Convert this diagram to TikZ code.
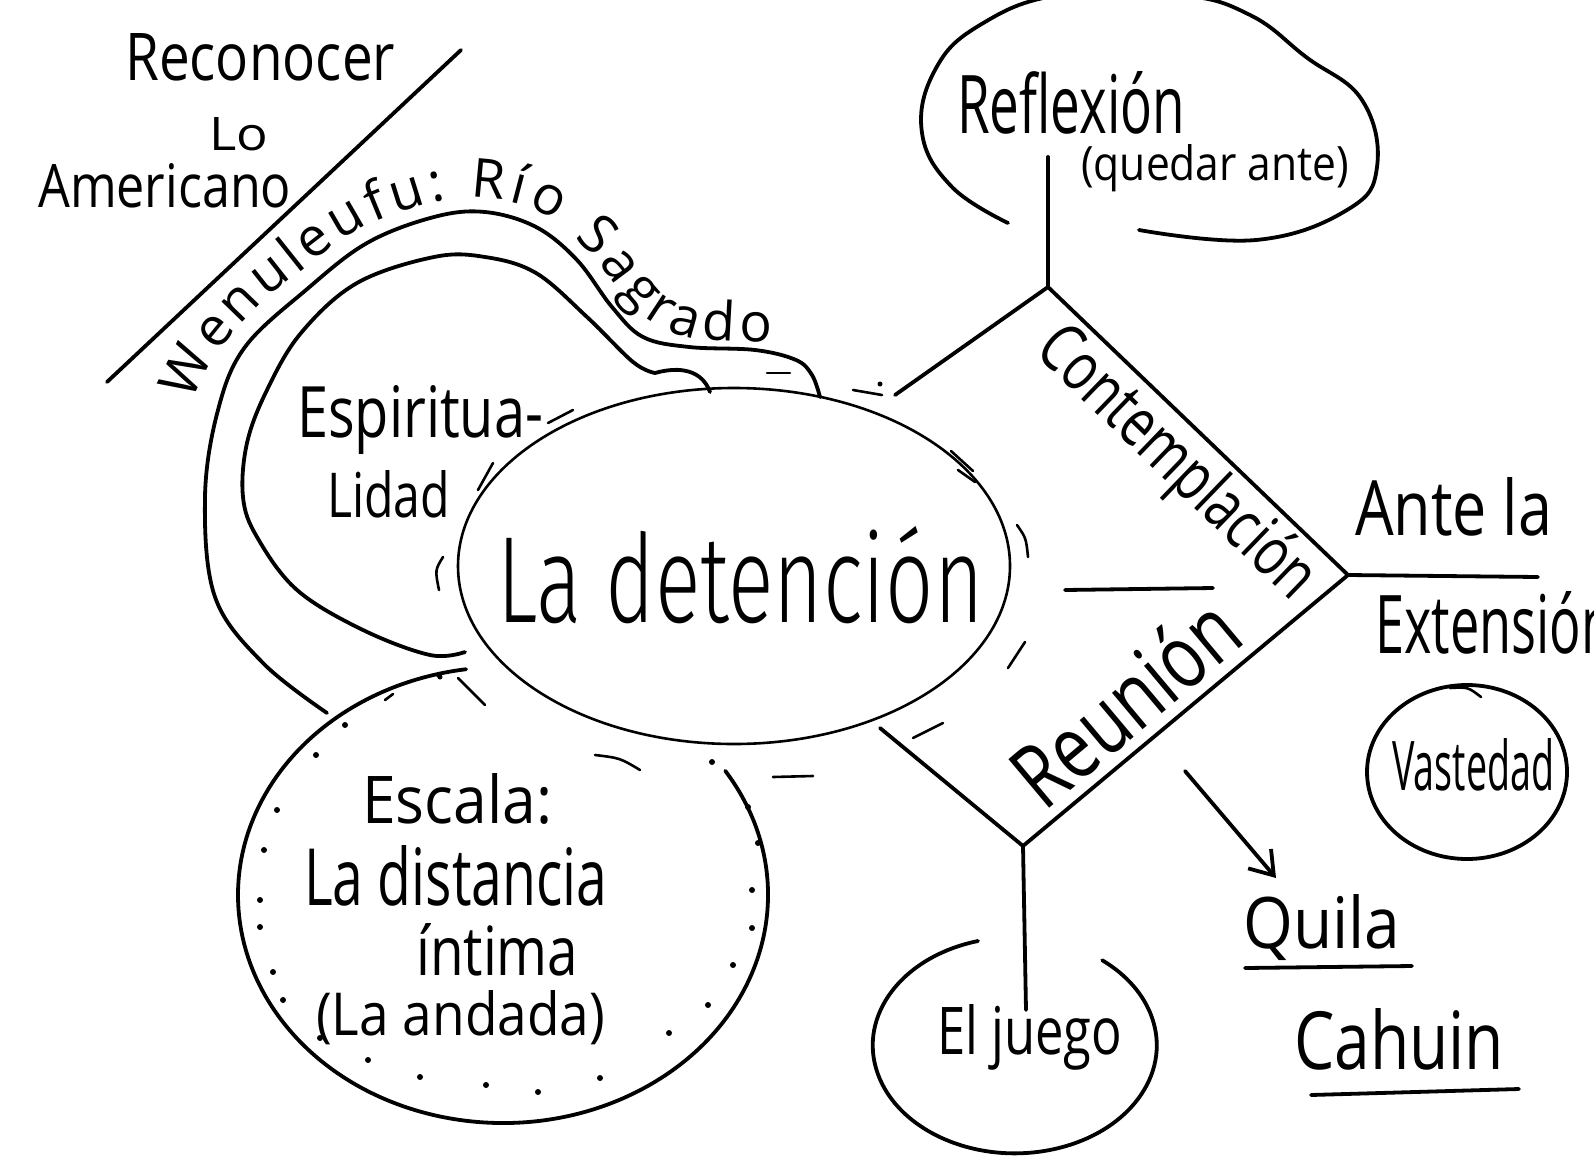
\documentclass[tikz,border=0pt]{standalone}
\usepackage{fontspec}
\setmainfont{Open Sans}
\newfontfamily\lightf{Fira Sans Light}
\usetikzlibrary{decorations.text,arrows.meta}
\newcommand\fitbox[3]{\resizebox{#1pt}{#2pt}{#3}}
\begin{document}
\begin{tikzpicture}[x=1pt,y=-1pt,line cap=round,line join=round,
  ink/.style={line width=3.8pt},
  fine/.style={line width=2.6pt},
  lbl/.style={inner sep=0pt,anchor=base west}]
\useasboundingbox (0,0) rectangle (1594,1156);
\fill[white] (0,0) rectangle (1594,1156);

% ---- top-left: Reconocer Lo Americano
\node[lbl] (trec) at (125,80) {\fitbox{270}{47}{Reconocer}};
\node[lbl] (tlo) at (209,150) {\fitbox{59}{33}{Lo}};
\node[lbl] (tam) at (38,207) {\fitbox{253}{44}{Americano}};
\coordinate (dg1) at (461,50);
\coordinate (dg2) at (107,382);
\draw[ink] (dg1) -- (dg2);

% ---- river (Wenuleufu)
\draw[ink] plot[smooth,tension=0.6] coordinates {(327,713) (263,663) (215,597) (205,497) (218,410) (245,347) (306,290) (367,243) (434,217) (485,212) (536,227) (577,260) (612,307) (643,337) (689,347) (755,350) (796,360) (812,375) (820,397)};
\draw[ink] plot[smooth,tension=0.6] coordinates {(465,652) (430,655) (363,630) (297,590) (257,537) (243,497) (247,443) (267,390) (301,333) (357,283) (434,257) (485,257) (536,273) (587,317) (633,362) (655,373)};
\draw[ink] (655,373) .. controls (680,366) and (702,370) .. (710,392);
\path[decorate,decoration={text along path,text align=fit to path,
  text={|\fontsize{54}{54}\selectfont|Wenuleufu: Río Sagrado}}]
  plot[smooth,tension=0.6] coordinates {(192,402) (210,365) (232,335) (262,303) (295,276) (358,230) (430,203) (485,198) (540,212) (585,247) (620,290) (650,320) (692,338) (772,342)};

% ---- Espiritualidad
\node[lbl] (tesp) at (297,437) {\fitbox{246}{52}{Espiritua-}};
\node[lbl] (tlid) at (327,517) {\fitbox{123}{47}{Lidad}};
\draw[fine] (548,423) -- (573,410);

% ---- La detencion
\coordinate (det) at (734,566);
\draw[fine] (det) ellipse [x radius=276, y radius=178];
\node[lbl] (tdet) at (497,622) {\fitbox{486}{96}{\lightf La detención}};
% marks around it
\draw[fine] (478,490) -- (493,463);
\draw[fine] (443,557) .. controls (435,570) .. (439,590);
\draw[fine] (458,678) -- (485,705);
\fill (440,677) circle (2.5);
\draw[fine] (767,373) -- (790,373);
\draw[fine] (853,390) -- (882,395);
\fill (880,384) circle (2.5);
\draw[fine] (951,451) -- (973,471);
\draw[fine] (958,470) -- (975,482);
\draw[fine] (1017,525) .. controls (1026,538) .. (1028,557);
\draw[fine] (1008,668) -- (1025,642);
\draw[fine] (913,738) -- (943,723);
\draw[fine] (595,755) .. controls (620,758) .. (640,770);
\draw[fine] (773,777) -- (813,776);

% ---- Escala circle (its upper right part hidden by the ellipse)
\coordinate (esc) at (503,895);
\draw[ink] (esc) ++(-33:265 and 228) arc[start angle=-33, end angle=262, x radius=265, y radius=228];
\foreach \p in {(277,810),(264,850),(260,900),(260,927),(273,972),(283,1000),(320,1038),(368,1060),(420,1077),(486,1085),(538,1092),(600,1078),(669,1033),(708,1005),(733,965),(752,928),(752,890),(758,843),(748,807),(712,762),(345,725),(316,755),(439,675)}
  \fill \p circle (3);
\draw[fine] (385,700) -- (393,694);
\node[lbl] (tesc) at (362,823) {\fitbox{190}{50}{Escala:}};
\node[lbl] (tdis) at (304,905) {\fitbox{303}{60}{La distancia}};
\node[lbl] (tint) at (416,975) {\fitbox{162}{52}{íntima}};
\node[lbl] (tand) at (316,1035) {\fitbox{289}{45}{(La andada)}};

% ---- diamond
\coordinate (dT) at (1048,287);
\coordinate (dR) at (1348,575);
\coordinate (dB) at (1023,846);
\coordinate (dUL) at (895,395);
\coordinate (dLL) at (880,728);
\draw[ink] (dUL) -- (dT) -- (dR) -- (dB) -- (dLL);
\coordinate (stemT) at (1048,157);
\coordinate (stemB) at (1026,1010);
\coordinate (extE) at (1538,577);
\draw[ink] (dT) -- (stemT);
\draw[ink] (dB) -- (stemB);
\draw[ink] (dR) -- (extE);
\coordinate (mid1) at (1065,590);
\coordinate (mid2) at (1213,588);
\draw[ink] (mid1) -- (mid2);
\node[inner sep=0pt,rotate=-44,anchor=north] (tcon) at (1199,440) {\fitbox{360}{52}{Contemplación}};
\node[inner sep=0pt,rotate=40,anchor=base] (treu) at (1146,727) {\fitbox{265}{68}{Reunión}};

% ---- arrow to Quila
\coordinate (ar1) at (1185,771);
\coordinate (ar2) at (1276,878);
\draw[ink,-{Straight Barb[length=22pt,width=30pt]}] (ar1) -- (ar2);

% ---- Reflexion blob
\draw[ink] plot[smooth,tension=0.7] coordinates {(1008,223) (952,187) (922,133) (935,70) (980,25) (1060,-5) (1180,-5) (1250,15) (1306,57) (1362,100) (1377,167) (1347,210) (1256,240) (1139,230)};
\node[lbl] (tref) at (957,133) {\fitbox{228}{62}{Reflexión}};
\node[lbl] (tque) at (1081,180) {\fitbox{268}{36}{(quedar ante)}};

% ---- El juego
\draw[ink] (978,941) arc[start angle=255, end angle=-52, x radius=142, y radius=108];
\node[lbl] (tjue) at (937,1054) {\fitbox{185}{50}{El juego}};

% ---- right side
\node[lbl] (tant) at (1355,535) {\fitbox{197}{58}{Ante la}};
\node[lbl] (text) at (1375,653) {\fitbox{238}{62}{Extensión}};
\coordinate (vas) at (1467,772);
\draw[ink] (vas) ellipse [x radius=100, y radius=87];
\draw[fine] (1450,688) .. controls (1468,687) .. (1481,697);
\node[lbl] (tvas) at (1392,790) {\fitbox{162}{52}{Vastedad}};
\node[lbl] (tqui) at (1243,948) {\fitbox{157}{54}{Quila}};
\draw[ink] (1245,968) -- (1412,966);
\node[lbl] (tcah) at (1294,1069) {\fitbox{210}{61}{Cahuin}};
\draw[ink] (1311,1095) -- (1519,1089);
\end{tikzpicture}
\end{document}
